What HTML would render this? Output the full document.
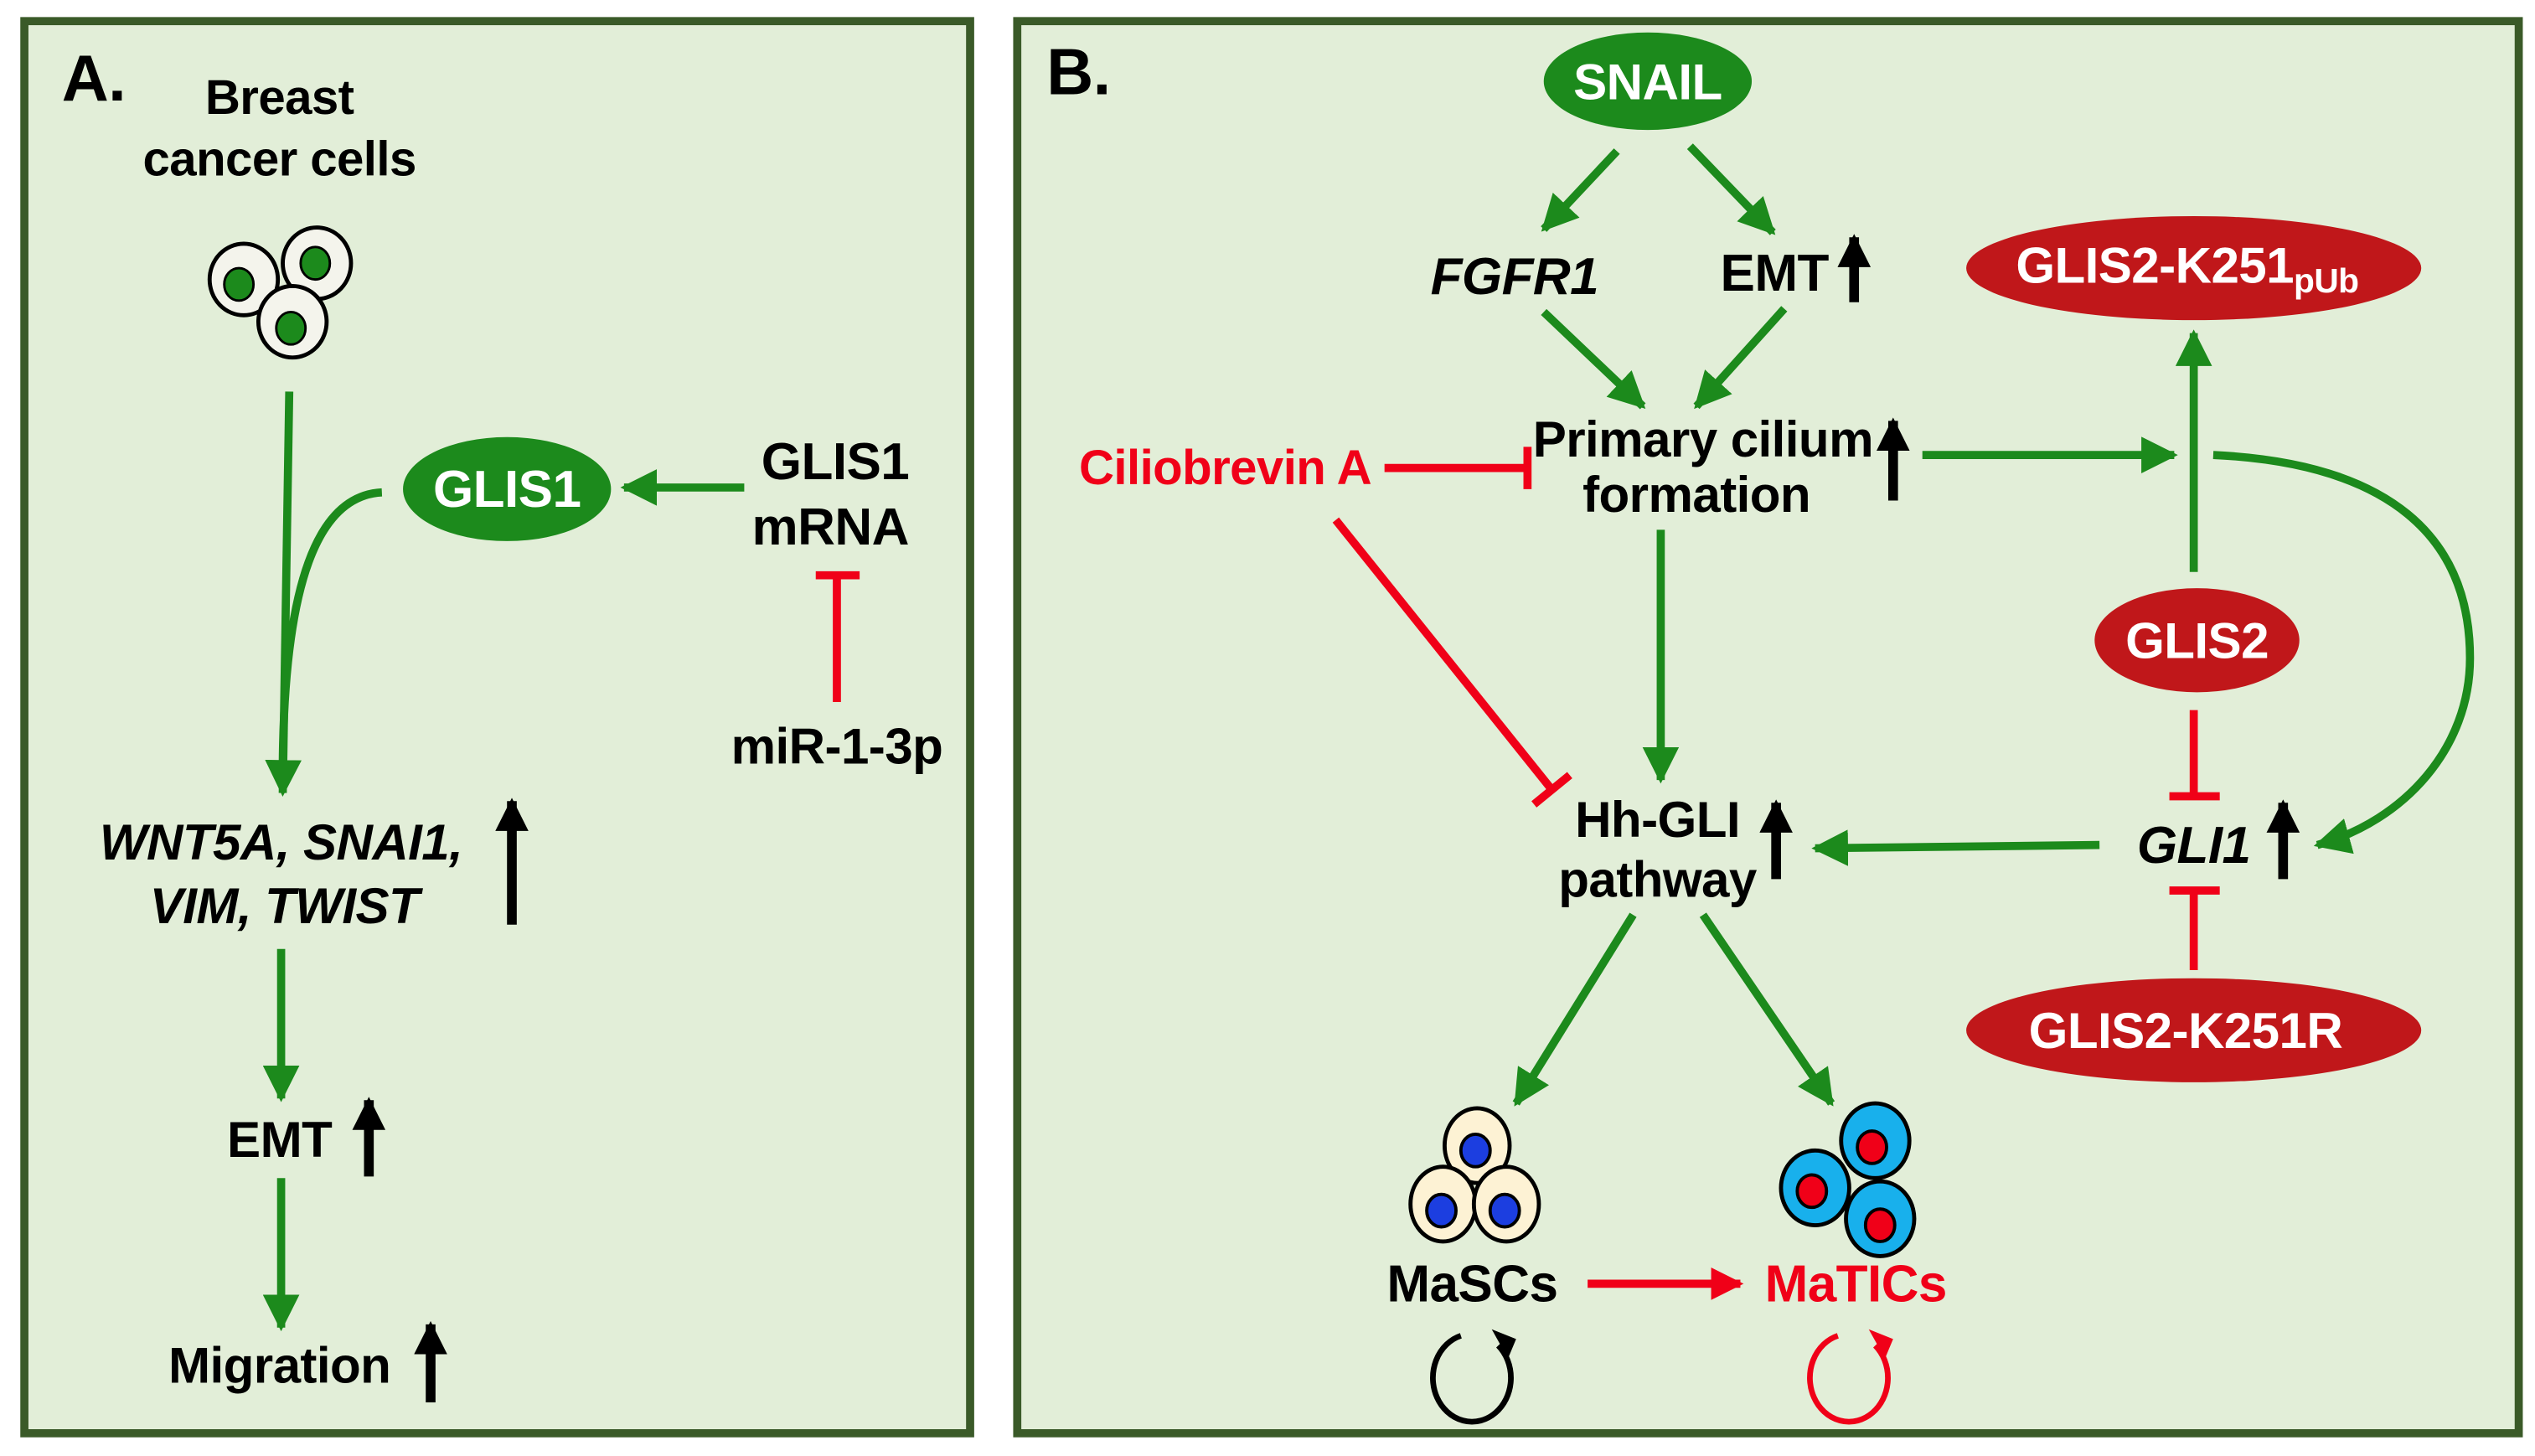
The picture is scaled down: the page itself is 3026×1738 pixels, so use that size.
<!DOCTYPE html>
<html><head><meta charset="utf-8"><style>
html,body{margin:0;padding:0;background:#fff}
svg{display:block}
text{font-family:"Liberation Sans",Arial,sans-serif;font-weight:bold;letter-spacing:-0.3px}
</style></head><body>
<svg width="3026" height="1738" viewBox="0 0 1560 896" xmlns="http://www.w3.org/2000/svg">
<defs>
<marker id="g" viewBox="0 0 10 10" refX="9" refY="5" markerWidth="4.5" markerHeight="4.5" orient="auto" markerUnits="strokeWidth"><path d="M0,0 L10,5 L0,10 z" fill="#1c8a1c"/></marker>
<marker id="k" viewBox="0 0 10 10" refX="9" refY="5" markerWidth="3.4" markerHeight="3.4" orient="auto" markerUnits="strokeWidth"><path d="M0,0 L10,5 L0,10 z" fill="#000"/></marker>
<marker id="r" viewBox="0 0 10 10" refX="9" refY="5" markerWidth="4" markerHeight="4" orient="auto" markerUnits="strokeWidth"><path d="M0,0 L10,5 L0,10 z" fill="#f00018"/></marker>
</defs>
<rect x="15" y="13" width="582" height="869" fill="#e2eed8" stroke="#3a5a28" stroke-width="5"/>
<rect x="626" y="13" width="924" height="869" fill="#e2eed8" stroke="#3a5a28" stroke-width="5"/>

<!-- Panel A -->
<text x="38" y="62" font-size="40">A.</text>
<text x="172" y="70" font-size="30" text-anchor="middle">Breast</text>
<text x="172" y="108" font-size="30" text-anchor="middle">cancer cells</text>
<g stroke="#000" stroke-width="2.5" fill="#f4f4ec">
<ellipse cx="150" cy="172" rx="21" ry="22"/><ellipse cx="195" cy="162" rx="21" ry="22"/><ellipse cx="180" cy="198" rx="21" ry="22"/>
</g>
<g fill="#1c8a1c" stroke="#000" stroke-width="1.5">
<ellipse cx="147" cy="175" rx="9" ry="10"/><ellipse cx="194" cy="162" rx="9" ry="10"/><ellipse cx="179" cy="202" rx="9" ry="10"/>
</g>
<g stroke="#1c8a1c" stroke-width="5" fill="none">
<line x1="178" y1="241" x2="174" y2="488" marker-end="url(#g)"/>
<path d="M235,303 C195,305 175,360 174,470"/>
<line x1="458" y1="300" x2="384" y2="300" marker-end="url(#g)"/>
<line x1="173" y1="584" x2="173" y2="676" marker-end="url(#g)"/>
<line x1="173" y1="725" x2="173" y2="817" marker-end="url(#g)"/>
</g>
<ellipse cx="312" cy="301" rx="64" ry="32" fill="#1c8a1c"/>
<text x="312" y="312" font-size="32" fill="#fff" text-anchor="middle">GLIS1</text>
<text x="514" y="295" font-size="32" text-anchor="middle">GLIS1</text>
<text x="511" y="335" font-size="32" text-anchor="middle">mRNA</text>
<g stroke="#f00018" stroke-width="5"><line x1="515" y1="354" x2="515" y2="432"/><line x1="502" y1="354" x2="529" y2="354"/></g>
<text x="515" y="470" font-size="31" text-anchor="middle">miR-1-3p</text>
<text x="173" y="529" font-size="31" font-style="italic" text-anchor="middle">WNT5A, SNAI1,</text>
<text x="175" y="568" font-size="31" font-style="italic" text-anchor="middle">VIM, TWIST</text>
<line x1="315" y1="569" x2="315" y2="493" stroke="#000" stroke-width="6" marker-end="url(#k)"/>
<text x="172" y="712" font-size="31" text-anchor="middle">EMT</text>
<line x1="227" y1="724" x2="227" y2="677" stroke="#000" stroke-width="6" marker-end="url(#k)"/>
<text x="172" y="851" font-size="31" text-anchor="middle">Migration</text>
<line x1="265" y1="863" x2="265" y2="815" stroke="#000" stroke-width="6" marker-end="url(#k)"/>

<!-- Panel B -->
<text x="644" y="58" font-size="40">B.</text>
<ellipse cx="1014" cy="50" rx="64" ry="30" fill="#1c8a1c"/>
<text x="1014" y="61" font-size="31" fill="#fff" text-anchor="middle">SNAIL</text>
<g stroke="#1c8a1c" stroke-width="5" fill="none">
<line x1="995" y1="93" x2="950" y2="141" marker-end="url(#g)"/>
<line x1="1040" y1="90" x2="1091" y2="143" marker-end="url(#g)"/>
<line x1="950" y1="192" x2="1011" y2="250" marker-end="url(#g)"/>
<line x1="1098" y1="190" x2="1044" y2="250" marker-end="url(#g)"/>
<line x1="1183" y1="280" x2="1338" y2="280" marker-end="url(#g)"/>
<line x1="1022" y1="326" x2="1022" y2="480" marker-end="url(#g)"/>
<line x1="1292" y1="520" x2="1117" y2="522" marker-end="url(#g)"/>
<line x1="1350" y1="352" x2="1350" y2="205" marker-end="url(#g)"/>
<path d="M1362,280 C1470,285 1520,330 1520,405 C1520,460 1480,505 1426,520" marker-end="url(#g)"/>
<line x1="1005" y1="563" x2="933" y2="679" marker-end="url(#g)"/>
<line x1="1048" y1="563" x2="1127" y2="679" marker-end="url(#g)"/>
</g>
<text x="932" y="181" font-size="32" font-style="italic" text-anchor="middle">FGFR1</text>
<text x="1092" y="179" font-size="32" text-anchor="middle">EMT</text>
<line x1="1141" y1="186" x2="1141" y2="146" stroke="#000" stroke-width="6" marker-end="url(#k)"/>
<text x="1048" y="281" font-size="31" text-anchor="middle">Primary cilium</text>
<text x="1044" y="315" font-size="31" text-anchor="middle">formation</text>
<line x1="1165" y1="308" x2="1165" y2="259" stroke="#000" stroke-width="6" marker-end="url(#k)"/>
<text x="754" y="298" font-size="30" fill="#f00018" text-anchor="middle">Ciliobrevin A</text>
<g stroke="#f00018" stroke-width="5">
<line x1="852" y1="288" x2="940" y2="288"/><line x1="940" y1="275" x2="940" y2="301"/>
<line x1="822" y1="320" x2="955" y2="486"/><line x1="944" y1="495" x2="966" y2="477"/>
<line x1="1350" y1="437" x2="1350" y2="490"/><line x1="1335" y1="490" x2="1366" y2="490"/>
<line x1="1350" y1="597" x2="1350" y2="548"/><line x1="1335" y1="548" x2="1366" y2="548"/>
</g>
<text x="1020" y="515" font-size="31" text-anchor="middle">Hh-GLI</text>
<text x="1020" y="552" font-size="31" text-anchor="middle">pathway</text>
<line x1="1093" y1="541" x2="1093" y2="494" stroke="#000" stroke-width="6" marker-end="url(#k)"/>
<text x="1350" y="531" font-size="32" font-style="italic" text-anchor="middle">GLI1</text>
<line x1="1405" y1="541" x2="1405" y2="494" stroke="#000" stroke-width="6" marker-end="url(#k)"/>
<ellipse cx="1350" cy="165" rx="140" ry="32" fill="#c0171a"/>
<text x="1346" y="174" font-size="31" fill="#fff" text-anchor="middle">GLIS2-K251<tspan font-size="21" dy="6">pUb</tspan></text>
<ellipse cx="1352" cy="394" rx="63" ry="32" fill="#c0171a"/>
<text x="1352" y="405" font-size="31" fill="#fff" text-anchor="middle">GLIS2</text>
<ellipse cx="1350" cy="634" rx="140" ry="32" fill="#c0171a"/>
<text x="1345" y="645" font-size="31" fill="#fff" text-anchor="middle">GLIS2-K251R</text>

<g stroke="#000" stroke-width="2.5" fill="#fdf2d4">
<ellipse cx="909" cy="705" rx="20" ry="23"/><ellipse cx="888" cy="741" rx="20" ry="23"/><ellipse cx="927" cy="741" rx="20" ry="23"/>
</g>
<g stroke="#000" stroke-width="2" fill="#1c3ee0">
<ellipse cx="908" cy="708" rx="9" ry="10"/><ellipse cx="887" cy="745" rx="9" ry="10"/><ellipse cx="926" cy="745" rx="9" ry="10"/>
</g>
<g stroke="#000" stroke-width="2.5" fill="#18b0ec">
<ellipse cx="1154" cy="702" rx="21" ry="23"/><ellipse cx="1117" cy="731" rx="21" ry="23"/><ellipse cx="1157" cy="750" rx="21" ry="23"/>
</g>
<g stroke="#000" stroke-width="2" fill="#f00018">
<ellipse cx="1152" cy="706" rx="9" ry="10"/><ellipse cx="1115" cy="733" rx="9" ry="10"/><ellipse cx="1157" cy="754" rx="9" ry="10"/>
</g>
<text x="906" y="801" font-size="32" text-anchor="middle">MaSCs</text>
<line x1="977" y1="790" x2="1071" y2="790" stroke="#f00018" stroke-width="5" marker-end="url(#r)"/>
<text x="1142" y="801" font-size="32" fill="#f00018" text-anchor="middle">MaTICs</text>
<path d="M899,822 A24,27 0 1,0 922,828" fill="none" stroke="#000" stroke-width="3.5"/>
<path d="M918,818 L933,824 L928,836 z" fill="#000"/>
<path d="M1131,822 A24,27 0 1,0 1154,828" fill="none" stroke="#f00018" stroke-width="3.5"/>
<path d="M1150,818 L1165,824 L1160,836 z" fill="#f00018"/>
</svg>
</body></html>
